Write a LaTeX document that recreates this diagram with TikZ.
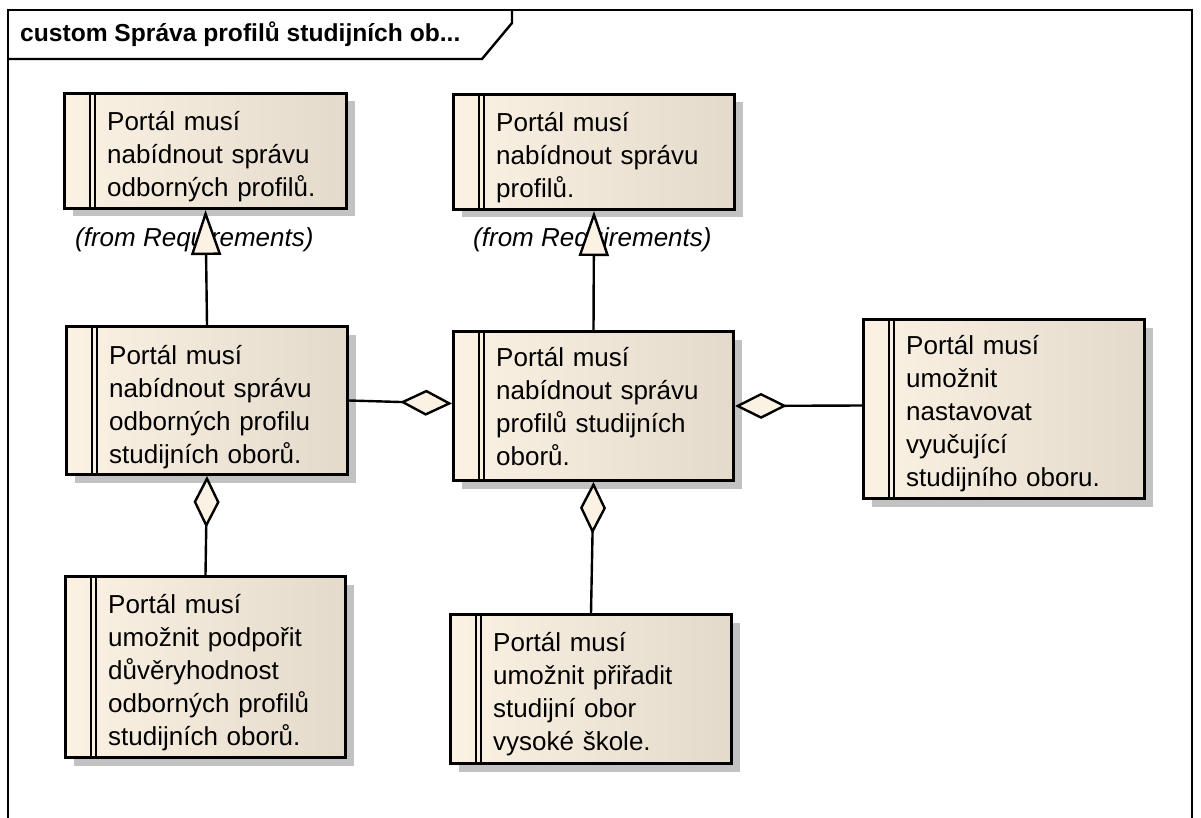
\documentclass[tikz,border=0pt]{standalone}
\usepackage{fontspec}
\setmainfont{Liberation Sans}
\usetikzlibrary{arrows.meta,shadows}

\definecolor{reqL}{RGB}{251,242,228}
\definecolor{reqR}{RGB}{227,218,204}
\definecolor{shadegray}{RGB}{194,194,194}

\newcommand{\firstline}{\rule{0pt}{24pt}}

\tikzset{
  req/.style={draw=black, line width=3pt, left color=reqL, right color=reqR,
    anchor=north west, inner sep=0pt,
    general shadow={fill=shadegray, shadow xshift=8pt, shadow yshift=-8pt}},
  stripe/.style={line width=2.4pt},
  boxtext/.style={anchor=north west, inner sep=0pt, align=left, text width=250pt,
    font=\fontsize{26}{33}\selectfont},
  fromlbl/.style={anchor=base west, inner sep=0pt, font=\itshape\fontsize{26}{30}\selectfont},
  frameline/.style={line width=2.4pt},
  gen/.style={line width=2.4pt, -{Triangle[length=45pt,width=30pt,fill=reqL]}},
  agg/.style={line width=2.4pt, -{Diamond[length=52pt,width=26pt,fill=reqL]}},
}

\begin{document}
\begin{tikzpicture}[x=1pt,y=-1pt]
\useasboundingbox (0,0) rectangle (1201,818);
\fill[white] (0,0) rectangle (1201,818);

% diagram frame and title tab
\draw[frameline] (8,818) -- (8,10) -- (1192,10) -- (1192,818);
\draw[frameline] (8,59) -- (482,59) -- (512,23) -- (512,10);
\node[anchor=base west, inner sep=0pt, font=\bfseries\fontsize{24.6}{28}\selectfont] (title)
  at (20,42) {custom Správa profilů studijních ob...};

% requirement boxes
\node[req, minimum width=282pt, minimum height=115pt] (A) at (63,92) {};
\node[req, minimum width=281pt, minimum height=115pt] (R) at (452,93) {};
\node[req, minimum width=281pt, minimum height=148pt] (B) at (65,325) {};
\node[req, minimum width=280pt, minimum height=149pt] (C) at (452,330) {};
\node[req, minimum width=281pt, minimum height=179pt] (D) at (862,318) {};
\node[req, minimum width=280pt, minimum height=181pt] (E) at (64,575) {};
\node[req, minimum width=281pt, minimum height=149pt] (F) at (449,613) {};

% double stripe on the left of each requirement
\foreach \n in {A,R,B,C,D,E,F}{
  \draw[stripe] ([xshift=27pt]\n.north west) -- ([xshift=27pt]\n.south west);
  \draw[stripe] ([xshift=32pt]\n.north west) -- ([xshift=32pt]\n.south west);
}

% requirement texts
\node[boxtext] (At) at ([shift={(44,14)}]A.north west)
  {\firstline Portál musí\\nabídnout správu\\odborných profilů.};
\node[boxtext] (Rt) at ([shift={(44,14)}]R.north west)
  {\firstline Portál musí\\nabídnout správu\\profilů.};
\node[boxtext] (Bt) at ([shift={(44,15)}]B.north west)
  {\firstline Portál musí\\nabídnout správu\\odborných profilu\\studijních oborů.};
\node[boxtext] (Ct) at ([shift={(44,12)}]C.north west)
  {\firstline Portál musí\\nabídnout správu\\profilů studijních\\oborů.};
\node[boxtext] (Dt) at ([shift={(44,12)}]D.north west)
  {\firstline Portál musí\\umožnit\\nastavovat\\vyučující\\studijního oboru.};
\node[boxtext] (Et) at ([shift={(44,14)}]E.north west)
  {\firstline Portál musí\\umožnit podpořit\\důvěryhodnost\\odborných profilů\\studijních oborů.};
\node[boxtext] (Ft) at ([shift={(44,14)}]F.north west)
  {\firstline Portál musí\\umožnit přiřadit\\studijní obor\\vysoké škole.};

% package labels
\node[fromlbl] (lA) at (75,247) {(from Requirements)};
\node[fromlbl] (lR) at (473,247) {(from Requirements)};

% generalizations
\draw[gen] (B.north) -- (A.south);
\draw[gen] (C.north) -- (R.south);

% aggregations
\draw[agg] (B.east) -- ([yshift=2.5pt]C.west);
\draw[agg] ([yshift=3.5pt]D.west) -- (C.east);
\draw[agg] (E.north) -- (B.south);
\draw[agg] (F.north) -- (C.south);
\end{tikzpicture}
\end{document}
